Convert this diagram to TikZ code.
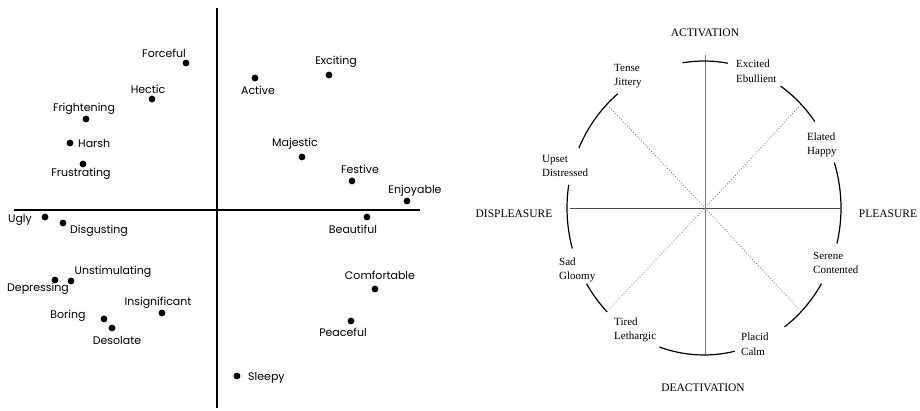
\documentclass[tikz,border=0pt]{standalone}
\usepackage{fontspec}
\setmainfont{Liberation Serif}
\newfontfamily\plotfont{Poppins}
\usetikzlibrary{calc}

\begin{document}
\begin{tikzpicture}[x=1pt,y=1pt,
  dot/.style={circle,fill,inner sep=0pt,minimum size=6.8pt},
  word/.style={font=\plotfont\fontsize{11}{13}\selectfont,inner sep=0pt},
  axis/.style={line width=1.6pt},
  rim/.style={line width=1.2pt},
  feel/.style={font=\fontsize{11}{14.5}\selectfont,align=left,anchor=west,inner sep=0pt},
  pole/.style={font=\fontsize{11.5}{13}\selectfont,inner sep=0pt}]
\useasboundingbox (0,0) rectangle (920,410);

% scatter of place words
\coordinate (ytop) at (217,402);
\coordinate (ybot) at (217,2);
\coordinate (xleft) at (14,200);
\coordinate (xright) at (420,200);
\draw[axis] (ytop) -- (ybot);
\draw[axis] (xleft) -- (xright);

\node[dot] (forceful) at (186,347) {};
\node[word] at (164,357) {Forceful};
\node[dot] (hectic) at (152,311) {};
\node[word] at (148,321) {Hectic};
\node[dot] (frightening) at (86,291) {};
\node[word] at (84,301) {Frightening};
\node[dot] (harsh) at (70,267) {};
\node[word,anchor=west] at (78,267) {Harsh};
\node[dot] (frustrating) at (83,246) {};
\node[word] at (81,236) {Frustrating};

\node[dot] (active) at (255,332) {};
\node[word] at (258,320) {Active};
\node[dot] (exciting) at (329,335) {};
\node[word] at (336,348) {Exciting};
\node[dot] (majestic) at (302,253) {};
\node[word] at (295,266) {Majestic};
\node[dot] (festive) at (352,229) {};
\node[word] at (360,241) {Festive};
\node[dot] (enjoyable) at (407,209) {};
\node[word] at (415,219) {Enjoyable};

\node[dot] (ugly) at (45,193) {};
\node[word] at (20,190) {Ugly};
\node[dot] (disgusting) at (63,187) {};
\node[word] at (99,179) {Disgusting};
\node[dot] (unstimulating) at (71,129) {};
\node[word] at (113,138) {Unstimulating};
\node[dot] (depressing) at (55,130) {};
\node[word] at (38,121) {Depressing};
\node[dot] (insignificant) at (162,97) {};
\node[word] at (158,107) {Insignificant};
\node[dot] (boring) at (104,91) {};
\node[word] at (68,94) {Boring};
\node[dot] (desolate) at (112,82) {};
\node[word] at (117,70) {Desolate};

\node[dot] (beautiful) at (367,193) {};
\node[word] at (353,181) {Beautiful};
\node[dot] (comfortable) at (375,121) {};
\node[word] at (380,135) {Comfortable};
\node[dot] (peaceful) at (351,89) {};
\node[word] at (343,78) {Peaceful};
\node[dot] (sleepy) at (237,34) {};
\node[word,anchor=west] at (248,32) {Sleepy};

% circumplex
\coordinate (c) at (705,202);
\coordinate (e) at (704,202);
\coordinate (acttop) at (705,355);
\coordinate (actbot) at (705,55);
\coordinate (plleft) at (570,202);
\coordinate (plright) at (840,202);
\draw[gray,line width=0.8pt] (acttop) -- (actbot);
\draw[black!70,line width=0.9pt] (plleft) -- (plright);

\coordinate (ur) at ($(e)+(45:134 and 143)$);
\coordinate (ul) at ($(e)+(135:134 and 143)$);
\coordinate (ll) at ($(e)+(225:134 and 143)$);
\coordinate (lr) at ($(e)+(315:134 and 143)$);
\draw[gray,dotted,line width=0.9pt] (ur) -- (c) -- (ll);
\draw[gray,dotted,line width=0.9pt] (ul) -- (c) -- (lr);

\draw[rim] ($(e)+(80:137 and 147)$) arc[start angle=80,end angle=99,x radius=137,y radius=147];
\draw[rim] ($(e)+(36:137 and 147)$) arc[start angle=36,end angle=56,x radius=137,y radius=147];
\draw[rim] ($(e)+(-14:137 and 147)$) arc[start angle=-14,end angle=18,x radius=137,y radius=147];
\draw[rim] ($(e)+(-54:137 and 147)$) arc[start angle=-54,end angle=-31,x radius=137,y radius=147];
\draw[rim] ($(e)+(-109:137 and 147)$) arc[start angle=-109,end angle=-77,x radius=137,y radius=147];
\draw[rim] ($(e)+(211:137 and 147)$) arc[start angle=211,end angle=225,x radius=137,y radius=147];
\draw[rim] ($(e)+(171:137 and 147)$) arc[start angle=171,end angle=196,x radius=137,y radius=147];
\draw[rim] ($(e)+(129:137 and 147)$) arc[start angle=129,end angle=156,x radius=137,y radius=147];

\node[pole] (activation) at (705,377) {ACTIVATION};
\node[pole] (deactivation) at (703,22) {DEACTIVATION};
\node[pole] (displeasure) at (514,196) {DISPLEASURE};
\node[pole] (pleasure) at (888,196) {PLEASURE};

\node[feel] (excited) at (736,339) {Excited\\Ebullient};
\node[feel] (tense) at (614,334) {Tense\\Jittery};
\node[feel] (elated) at (807,265) {Elated\\Happy};
\node[feel] (upset) at (542,244) {Upset\\Distressed};
\node[feel] (sad) at (559,140) {Sad\\Gloomy};
\node[feel] (serene) at (813,147) {Serene\\Contented};
\node[feel] (tired) at (614,80) {Tired\\Lethargic};
\node[feel] (placid) at (741,66) {Placid\\Calm};
\end{tikzpicture}
\end{document}
